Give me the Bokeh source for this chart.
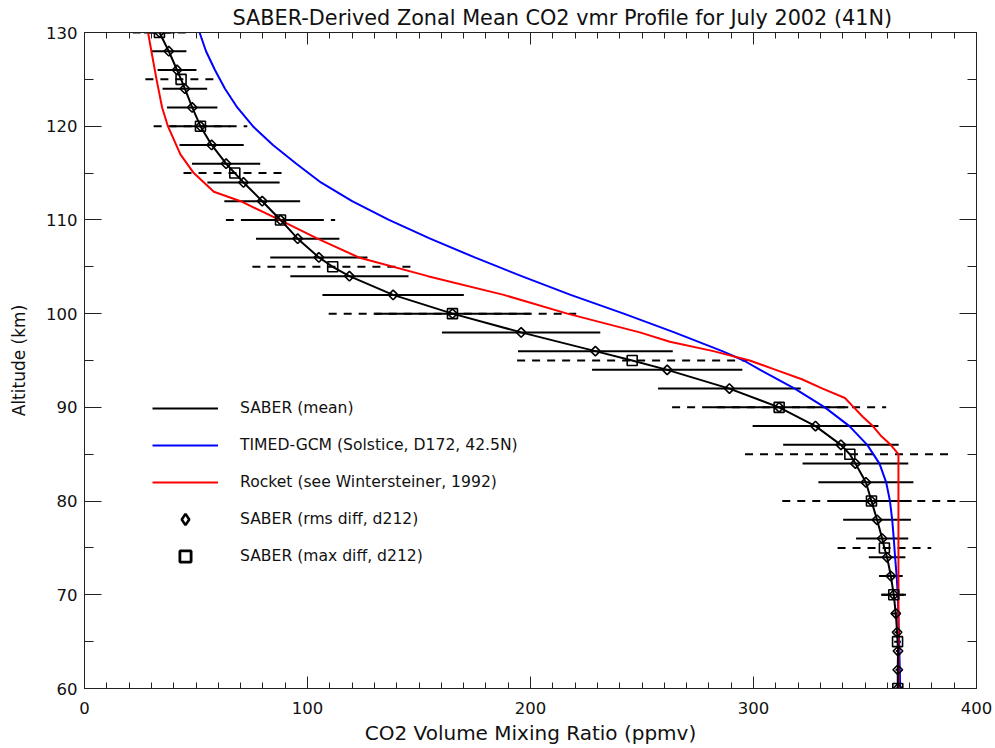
import numpy as np
from bokeh.plotting import figure
from bokeh.models import (ColumnDataSource, LinearAxis, SingleIntervalTicker, Range1d,
                          Legend, LegendItem)
from bokeh.embed import file_html
from bokeh.resources import INLINE

# ---------------- data ----------------
# SABER mean at even altitudes, with rms-difference half widths (solid bars, diamonds)
alt_rms = [60, 62, 64, 66, 68, 70, 72, 74, 76, 78, 80, 82, 84, 86, 88, 90, 92, 94,
           96, 98, 100, 102, 104, 106, 108, 110, 112, 114, 116, 118, 120, 122, 124,
           126, 128, 130]
mean_rms = [364.7, 364.7, 364.8, 364.4, 363.8, 362.9, 361.6, 359.9, 357.7, 355.4,
            352.9, 350.4, 345.7, 339.2, 327.8, 311.5, 289.2, 261.3, 229.1, 195.8,
            165.0, 138.4, 118.8, 105.1, 95.6, 87.9, 79.7, 71.3, 63.5, 57.0, 52.0,
            48.3, 45.0, 41.5, 37.8, 33.6]
err_rms = [1.0, 1.0, 1.0, 1.2, 2.0, 5.5, 5.3, 8.2, 11.7, 15.2, 18.0, 21.3, 23.7,
           25.9, 28.2, 31.0, 32.0, 33.7, 34.7, 35.5, 35.0, 31.7, 26.5, 21.8, 18.7,
           17.5, 17.0, 16.2, 15.3, 14.4, 13.4, 11.3, 10.0, 8.7, 7.9, 7.0]

# SABER mean every 5 km, with max-difference half widths (dashed bars, squares)
alt_max = [60, 65, 70, 75, 80, 85, 90, 95, 100, 105, 110, 115, 120, 125, 130]
mean_max = [364.7, 364.6, 362.9, 358.7, 352.9, 343.2, 311.5, 245.6, 165.0, 111.3,
            87.9, 67.4, 52.0, 43.3, 33.6]
err_max = [1.0, 1.5, 5.6, 21.0, 40.0, 47.0, 48.0, 51.6, 55.5, 36.0, 24.5, 23.0,
           21.0, 16.0, 12.0]

# TIMED-GCM (Solstice, D172, 42.5N)
gcm_alt = [60, 65, 70, 72, 74, 76, 78, 80, 82, 84, 86, 88, 90, 92, 94, 95, 96, 98,
           100, 102, 104, 106, 108, 110, 112, 114, 116, 118, 120, 122, 124, 126,
           128, 130]
gcm_co2 = [365.8, 365.3, 364.7, 364.2, 363.5, 362.9, 362.2, 361.2, 359.5, 356.5,
           351.0, 343.0, 332.0, 318.5, 303.0, 295.6, 286.0, 264.5, 241.8, 218.0,
           196.0, 175.0, 155.0, 136.5, 120.0, 106.0, 95.0, 84.5, 75.5, 68.5, 63.0,
           58.5, 54.5, 51.6]

# Rocket (see Wintersteiner, 1992)
rocket_alt = [60, 70, 80, 85, 86, 87, 88, 89, 90, 91, 92, 93, 94, 95, 96, 97, 98,
              100, 102, 104, 106, 108, 110, 112, 113, 115, 117, 120, 122, 125, 128,
              130]
rocket_co2 = [365.0, 365.0, 365.0, 365.0, 361.5, 357.0, 353.5, 349.0, 345.0, 341.0,
              331.0, 321.7, 310.0, 298.3, 282.0, 262.5, 249.0, 216.5, 188.0, 154.0,
              123.0, 104.5, 87.5, 70.0, 58.0, 49.0, 43.0, 37.4, 34.8, 32.3, 30.0,
              28.5]

x_tick_values = [0, 100, 200, 300, 400]
y_tick_values = [60, 70, 80, 90, 100, 110, 120, 130]

# ---------------- sources ----------------
rms = ColumnDataSource(dict(
    alt=alt_rms, mean=mean_rms,
    lo=[m - e for m, e in zip(mean_rms, err_rms)],
    hi=[m + e for m, e in zip(mean_rms, err_rms)]))
mx = ColumnDataSource(dict(
    alt=alt_max, mean=mean_max,
    lo=[m - e for m, e in zip(mean_max, err_max)],
    hi=[m + e for m, e in zip(mean_max, err_max)]))

combined = {}
for a, m in zip(alt_rms, mean_rms):
    combined[a] = m
for a, m in zip(alt_max, mean_max):
    combined.setdefault(a, m)
line_alt = sorted(combined)
line_mean = [combined[a] for a in line_alt]

FONT = "DejaVu Sans"

p = figure(width=995, height=748, output_backend="svg", toolbar_location=None,
           x_range=Range1d(0, 400), y_range=Range1d(60, 130),
           min_border_left=84, min_border_right=19, min_border_top=32,
           min_border_bottom=60)
p.grid.visible = False
p.outline_line_color = None
p.background_fill_color = "white"
p.border_fill_color = "white"

p.title.text = "SABER-Derived Zonal Mean CO2 vmr Profile for July 2002 (41N)"
p.title.text_font = FONT
p.title.text_font_size = "20.8px"
p.title.text_font_style = "normal"
p.title.align = "left"
p.title.offset = 148
p.title.standoff = 5
p.title.text_color = "#111111"

# error bars
p.segment(x0="lo", x1="hi", y0="alt", y1="alt", source=mx, line_color="black",
          line_width=2, line_dash="8 7")
p.segment(x0="lo", x1="hi", y0="alt", y1="alt", source=rms, line_color="black",
          line_width=2)

r_gcm = p.line(gcm_co2, gcm_alt, line_color="#0000ff", line_width=2)
r_rocket = p.line(rocket_co2, rocket_alt, line_color="#ff0000", line_width=2)
r_mean = p.line(line_mean, line_alt, line_color="black", line_width=2)

p.scatter("mean", "alt", source=rms, marker="square", angle=np.pi / 4,
          size=6.8, fill_alpha=0, line_color="black", line_width=1.6)
p.scatter("mean", "alt", source=mx, marker="square", size=10,
          fill_alpha=0, line_color="black", line_width=1.6)

# legend-only glyphs (bold markers, as in the reference key); NaN => not drawn in plot
leg_dia = p.scatter(x=[np.nan], y=[np.nan], marker="diamond", size=14, fill_alpha=0,
                    line_color="black", line_width=2.6)
leg_sq = p.scatter(x=[np.nan], y=[np.nan], marker="square", size=10, fill_alpha=0,
                   line_color="black", line_width=2.8)

# axes
AX = "#222222"
def style(ax, tick_in, minor_in):
    ax.axis_line_color = AX
    ax.major_tick_line_color = AX
    ax.minor_tick_line_color = AX
    ax.major_tick_in = tick_in
    ax.major_tick_out = 0
    ax.minor_tick_in = minor_in
    ax.minor_tick_out = 0
    ax.major_label_text_font = FONT
    ax.major_label_text_color = "#111111"
    ax.axis_label_text_font = FONT
    ax.axis_label_text_font_style = "normal"
    ax.axis_label_text_color = "#111111"

xt = SingleIntervalTicker(interval=100, num_minor_ticks=10)
yt = SingleIntervalTicker(interval=10, num_minor_ticks=2)

xa = p.xaxis[0]
xa.ticker = xt
xa.axis_label = "CO2 Volume Mixing Ratio (ppmv)"
style(xa, 12, 6)
xa.major_label_text_font_size = "16.5px"
xa.major_label_standoff = 13
xa.axis_label_text_font_size = "20px"
xa.axis_label_standoff = 4

ya = p.yaxis[0]
ya.ticker = yt
ya.axis_label = "Altitude (km)"
style(ya, 17, 9)
ya.major_label_text_font_size = "16.5px"
ya.major_label_standoff = 7
ya.axis_label_text_font_size = "17px"
ya.axis_label_standoff = 14

top = LinearAxis(ticker=SingleIntervalTicker(interval=100, num_minor_ticks=10))
style(top, 12, 6)
top.major_label_overrides = {v: "" for v in x_tick_values}
top.major_label_text_font_size = "10px"
top.major_label_standoff = 0
p.add_layout(top, "above")
right = LinearAxis(ticker=SingleIntervalTicker(interval=10, num_minor_ticks=2))
style(right, 17, 9)
right.major_label_overrides = {v: "" for v in y_tick_values}
right.major_label_text_font_size = "10px"
right.major_label_standoff = 0
p.add_layout(right, "right")

legend = Legend(items=[
    LegendItem(label="SABER (mean)", renderers=[r_mean]),
    LegendItem(label="TIMED-GCM (Solstice, D172, 42.5N)", renderers=[r_gcm]),
    LegendItem(label="Rocket (see Wintersteiner, 1992)", renderers=[r_rocket]),
    LegendItem(label="SABER (rms diff, d212)", renderers=[leg_dia]),
    LegendItem(label="SABER (max diff, d212)", renderers=[leg_sq]),
], location=(68, 118))
legend.label_text_font = FONT
legend.label_text_font_size = "15.6px"
legend.label_text_color = "#111111"
legend.glyph_width = 66
legend.glyph_height = 28
legend.label_height = 20
legend.label_standoff = 22
legend.spacing = 9
legend.padding = 0
legend.margin = 0
legend.border_line_alpha = 0
legend.background_fill_alpha = 0
p.add_layout(legend)

open("out.html", "w").write(file_html(p, INLINE))
